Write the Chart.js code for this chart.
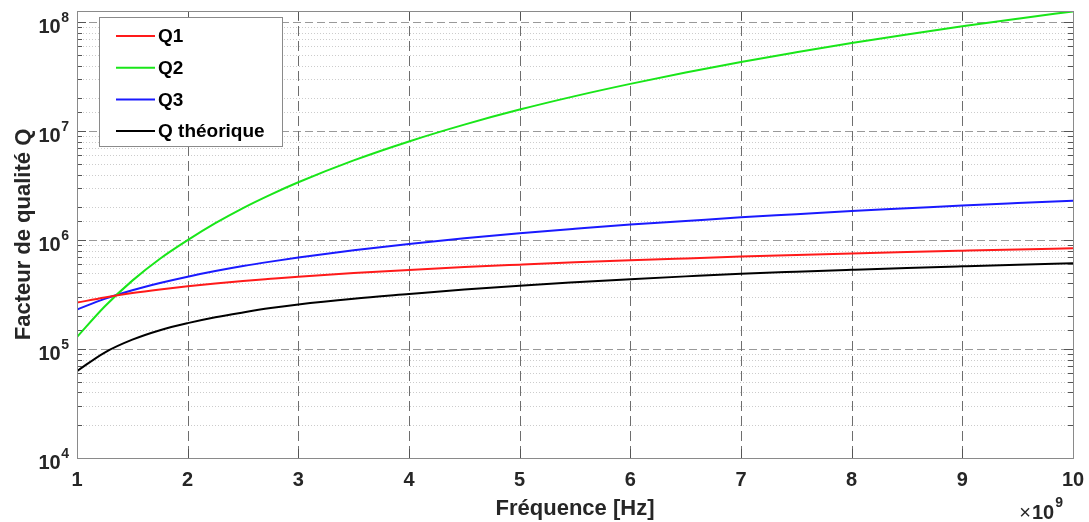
<!DOCTYPE html>
<html>
<head>
<meta charset="utf-8">
<script src="https://cdn.jsdelivr.net/npm/chart.js@4"></script>
<style>
  html, body { margin: 0; background: #fff; overflow: hidden; }
  #wrap { width: 1089px; height: 522px; }
</style>
</head>
<body>
<div id="wrap"><canvas id="chart"></canvas></div>
<script>
// frequences en GHz (axe x affiche "x10^9")
const freq = [1, 1.25, 1.5, 1.75, 2, 2.25, 2.5, 2.75, 3, 3.5, 4, 4.5, 5, 5.5, 6, 6.5, 7, 7.5, 8, 8.5, 9, 9.5, 10];

const q1 = [2.67e5, 2.98e5, 3.27e5, 3.53e5, 3.77e5, 4.0e5, 4.22e5, 4.42e5, 4.62e5, 4.99e5, 5.33e5, 5.66e5,
    5.96e5, 6.26e5, 6.54e5, 6.8e5, 7.06e5, 7.31e5, 7.55e5, 7.78e5, 8.0e5, 8.22e5, 8.43e5];
const q2 = [1.29e5, 2.46e5, 4.25e5, 6.75e5, 1.0e6, 1.43e6, 1.97e6, 2.62e6, 3.4e6, 5.4e6, 8.06e6, 1.15e7,
    1.58e7, 2.1e7, 2.72e7, 3.46e7, 4.32e7, 5.3e7, 6.45e7, 7.74e7, 9.2e7, 1.08e8, 1.26e8];
const q3 = [2.31e5, 2.89e5, 3.47e5, 4.04e5, 4.62e5, 5.2e5, 5.78e5, 6.35e5, 6.93e5, 8.09e5, 9.24e5, 1.04e6,
    1.155e6, 1.27e6, 1.39e6, 1.5e6, 1.62e6, 1.73e6, 1.85e6, 1.96e6, 2.08e6, 2.19e6, 2.3e6];
const qth = [6.28e4, 9.3e4, 1.22e5, 1.49e5, 1.73e5, 1.96e5, 2.17e5, 2.38e5, 2.57e5, 2.9e5, 3.2e5, 3.52e5,
    3.82e5, 4.1e5, 4.38e5, 4.65e5, 4.92e5, 5.14e5, 5.35e5, 5.56e5, 5.76e5, 5.96e5, 6.15e5];

const labels = ['Q1', 'Q2', 'Q3', 'Q théorique'];
const colors = ['#ff1a1a', '#19e619', '#1a1aff', '#000000'];

const yMin = 1e4;
const yMax = 1.27e8;

const FONT = '"Liberation Sans", Arial, sans-serif';

function pts(arr) {
    return freq.map((f, i) => ({ x: f, y: arr[i] }));
}

function isDecade(v) {
    const l = Math.log10(v);
    return Math.abs(l - Math.round(l)) < 1e-9;
}

// grille, cadre, graduations et etiquettes facon MATLAB
const matlabAxes = {
    id: 'matlabAxes',
    beforeDatasetsDraw(chart) {
        const { ctx, chartArea: a, scales: { x, y } } = chart;
        ctx.save();
        ctx.lineWidth = 1;
        // grille mineure en pointilles
        y.ticks.forEach(t => {
            if (isDecade(t.value) || t.value >= yMax) return;
            const py = Math.round(y.getPixelForValue(t.value)) + 0.5;
            ctx.strokeStyle = '#cccccc';
            ctx.setLineDash([1, 2]);
            ctx.beginPath(); ctx.moveTo(a.left, py); ctx.lineTo(a.right, py); ctx.stroke();
        });
        // grille majeure horizontale
        y.ticks.forEach(t => {
            if (!isDecade(t.value) || t.value <= yMin) return;
            const py = Math.round(y.getPixelForValue(t.value)) + 0.5;
            ctx.strokeStyle = '#999999';
            ctx.setLineDash([8, 4]);
            ctx.beginPath(); ctx.moveTo(a.left, py); ctx.lineTo(a.right, py); ctx.stroke();
        });
        // grille verticale
        x.ticks.forEach(t => {
            if (t.value <= x.min || t.value >= x.max) return;
            const px = Math.round(x.getPixelForValue(t.value)) + 0.5;
            ctx.strokeStyle = '#6e6e6e';
            ctx.setLineDash([10, 5]);
            ctx.beginPath(); ctx.moveTo(px, a.top); ctx.lineTo(px, a.bottom); ctx.stroke();
        });
        ctx.restore();
    },
    afterDatasetsDraw(chart) {
        const { ctx, chartArea: a, scales: { x, y } } = chart;
        ctx.save();
        ctx.setLineDash([]);
        ctx.lineWidth = 1;
        ctx.strokeStyle = '#555';
        // graduations interieures
        y.ticks.forEach(t => {
            if (t.value >= yMax) return;
            const py = Math.round(y.getPixelForValue(t.value)) + 0.5;
            const len = isDecade(t.value) ? 9 : 5;
            ctx.beginPath();
            ctx.moveTo(a.left, py); ctx.lineTo(a.left + len, py);
            ctx.moveTo(a.right, py); ctx.lineTo(a.right - len, py);
            ctx.stroke();
        });
        x.ticks.forEach(t => {
            const px = Math.round(x.getPixelForValue(t.value)) + 0.5;
            ctx.beginPath();
            ctx.moveTo(px, a.bottom); ctx.lineTo(px, a.bottom - 9);
            ctx.moveTo(px, a.top); ctx.lineTo(px, a.top + 9);
            ctx.stroke();
        });
        // cadre
        ctx.strokeStyle = '#8a8a8a';
        ctx.strokeRect(Math.round(a.left) + 0.5, Math.round(a.top) + 0.5,
            Math.round(a.right - a.left), Math.round(a.bottom - a.top));

        // etiquettes y : 10^n
        ctx.fillStyle = '#262626';
        ctx.textBaseline = 'middle';
        ctx.textAlign = 'right';
        y.ticks.forEach(t => {
            if (!isDecade(t.value)) return;
            const py = y.getPixelForValue(t.value);
            const exp = String(Math.round(Math.log10(t.value)));
            ctx.font = 'bold 14px ' + FONT;
            const ew = ctx.measureText(exp).width;
            ctx.fillText(exp, 69, py - 4);
            ctx.font = 'bold 20px ' + FONT;
            ctx.fillText('10', 69 - ew - 0.5, py + 5);
        });

        // facteur x10^9
        const bx = a.right;
        ctx.font = 'bold 14px ' + FONT;
        ctx.textAlign = 'right';
        ctx.fillText('9', bx - 10, 503);
        const w9 = ctx.measureText('9').width;
        ctx.font = 'bold 20px ' + FONT;
        ctx.fillText('10', bx - 10 - w9 - 1, 513);
        const w10 = ctx.measureText('10').width;
        ctx.font = '20px ' + FONT;
        ctx.fillText('×', bx - 10 - w9 - 1 - w10 - 1, 513);

        // legende
        const lx = 99.5, ly = 17.5, lw = 183, lh = 129;
        ctx.fillStyle = '#fff';
        ctx.fillRect(lx, ly, lw, lh);
        ctx.strokeStyle = '#8a8a8a';
        ctx.strokeRect(lx, ly, lw, lh);
        chart.data.datasets.forEach((ds, i) => {
            const ry = 36 + i * 31.7;
            ctx.strokeStyle = ds.borderColor;
            ctx.lineWidth = 2;
            ctx.beginPath(); ctx.moveTo(116, ry); ctx.lineTo(155, ry); ctx.stroke();
            ctx.fillStyle = '#000';
            ctx.textAlign = 'left';
            ctx.textBaseline = 'middle';
            ctx.font = 'bold 19px ' + FONT;
            ctx.fillText(ds.label, 158, ry + 1);
        });
        ctx.restore();
    }
};

const series = [q1, q2, q3, qth];

new Chart(document.getElementById('chart'), {
    type: 'line',
    data: {
        datasets: series.map((s, i) => ({
            label: labels[i],
            data: pts(s),
            borderColor: colors[i],
            borderWidth: 2,
            pointRadius: 0,
            cubicInterpolationMode: 'monotone',
            fill: false
        }))
    },
    options: {
        responsive: true,
        maintainAspectRatio: false,
        animation: false,
        layout: { padding: { left: 7, top: 11, right: 16, bottom: 0 } },
        plugins: {
            legend: { display: false },
            tooltip: { enabled: false }
        },
        scales: {
            x: {
                type: 'linear',
                min: 1,
                max: 10,
                grid: { display: false, drawTicks: false },
                border: { display: false },
                ticks: {
                    stepSize: 1,
                    padding: 10,
                    color: '#262626',
                    font: { family: FONT, size: 20, weight: 'bold' },
                    maxRotation: 0
                },
                title: {
                    display: true,
                    text: 'Fréquence [Hz]',
                    color: '#262626',
                    font: { family: FONT, size: 22, weight: 'bold', lineHeight: 0.82 }
                },
                afterFit(scale) {
                    scale.height = 64;
                    scale.paddingLeft = 0;
                    scale.paddingRight = 0;
                }
            },
            y: {
                type: 'logarithmic',
                min: yMin,
                max: yMax,
                grid: { display: false, drawTicks: false },
                border: { display: false },
                ticks: { display: false, autoSkip: false },
                title: {
                    display: true,
                    text: 'Facteur de qualité Q',
                    color: '#262626',
                    font: { family: FONT, size: 22, weight: 'bold' }
                },
                afterFit(scale) { scale.width = 70; }
            }
        }
    },
    plugins: [matlabAxes]
});
</script>
</body>
</html>
